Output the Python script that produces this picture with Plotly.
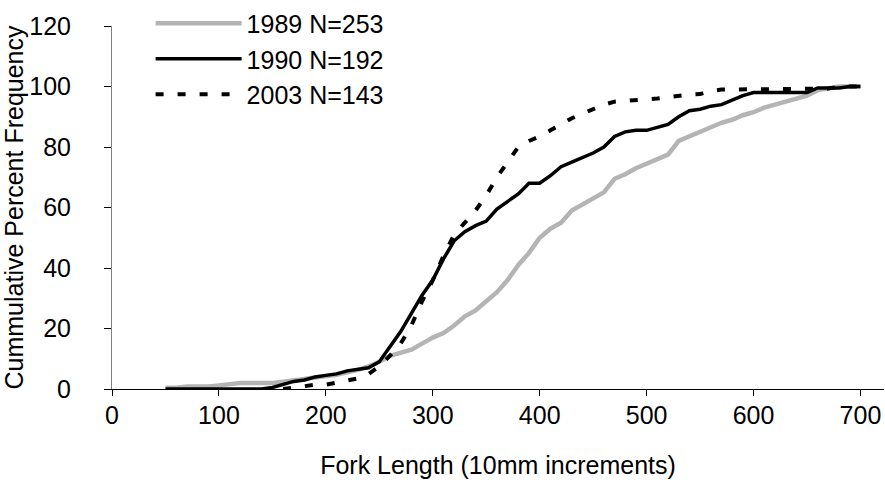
import plotly.graph_objects as go

fork_length = list(range(50, 701, 10))

pct_1989 = [0.4, 0.4, 0.8, 0.8, 0.8, 1.2, 1.6, 2.0, 2.0, 2.0, 2.0, 2.4, 2.8, 3.2, 3.6, 4.0,
            4.7, 5.5, 6.3, 7.5, 9.0, 11.0, 12.0, 13.0, 15.0, 17.0, 18.5, 21.0, 24.0, 26.0,
            29.0, 32.0, 36.0, 41.0, 45.0, 50.0, 53.0, 55.0, 59.0, 61.0, 63.0, 65.0, 69.5,
            71.0, 73.0, 74.5, 76.0, 77.5, 82.0, 83.5, 85.0, 86.5, 88.0, 89.0, 90.5, 91.5,
            93.0, 94.0, 95.0, 96.0, 97.0, 98.8, 99.5, 100, 100, 100]

pct_1990 = [0, 0, 0, 0, 0, 0, 0, 0, 0, 0, 0.5, 1.5, 2.5, 3.0, 4.0, 4.5, 5.0, 6.0, 6.5, 7.0,
            9.0, 14.0, 19.0, 25.0, 31.0, 36.0, 43.0, 49.0, 52.0, 54.0, 55.5, 59.5, 62.0,
            64.5, 68.0, 68.0, 70.5, 73.5, 75.0, 76.5, 78.0, 80.0, 83.5, 85.0, 85.5, 85.5,
            86.5, 87.5, 90.0, 92.0, 92.5, 93.5, 94.0, 95.5, 97.0, 98.0, 98.0, 98.0, 98.0,
            98.0, 98.0, 99.5, 99.5, 99.5, 100, 100]

pct_2003 = [None] * 11 + [0, 0.5, 0.7, 1.4, 1.4, 2.1, 2.8, 3.5, 5.0, 7.5, 11.0, 15.0, 21.0,
            29.0, 36.0, 44.0, 51.0, 55.0, 59.0, 64.0, 70.0, 75.0, 80.0, 82.0, 83.5, 85.5,
            87.5, 89.5, 91.0, 92.5, 94.0, 95.0, 95.2, 95.5, 95.5, 96.0, 96.5, 97.0, 97.3,
            97.5, 98.5, 99.0, 99.0, 99.3, 99.3, 99.3, 99.3, 99.3, 99.3, 99.3, 99.3, 99.3,
            100, 100, 100]

series_names = ["1989 N=253", "1990 N=192", "2003 N=143"]

FONT = "Liberation Sans, Arial, sans-serif"
FS = 25

fig = go.Figure()
fig.add_trace(go.Scatter(x=fork_length, y=pct_1989, mode="lines", name=series_names[0],
                         legendgroup="a",
                         line=dict(color="#b4b4b4", width=4.5)))
fig.add_trace(go.Scatter(x=fork_length, y=pct_1990, mode="lines", name=series_names[1],
                         legendgroup="b",
                         line=dict(color="#000000", width=3.5)))
fig.add_trace(go.Scatter(x=fork_length, y=pct_2003, mode="lines", name=series_names[2],
                         legendgroup="c",
                         line=dict(color="#000000", width=4, dash="8px,14px")))

fig.update_layout(
    width=885, height=487,
    margin=dict(l=112, r=1, t=22, b=98),
    paper_bgcolor="white", plot_bgcolor="white",
    font=dict(family=FONT, size=FS, color="#000000"),
    showlegend=True,
    legend=dict(x=0.05, y=1.07, xanchor="left", yanchor="top",
                bgcolor="rgba(0,0,0,0)", font=dict(size=FS),
                itemwidth=86, tracegroupgap=0, traceorder="grouped"),
    xaxis=dict(range=[0, 722], tickmode="array", tickvals=list(range(0, 701, 100)),
               showgrid=False, zeroline=False, showline=True, linecolor="#000000",
               linewidth=1, ticks="outside", ticklen=6, tickcolor="#000000",
               ticklabelstandoff=-2,
               title=dict(text="Fork Length (10mm increments)", font=dict(size=FS), standoff=28),
               tickfont=dict(size=FS)),
    yaxis=dict(range=[0, 120], tickmode="array", tickvals=list(range(0, 121, 20)),
               showgrid=False, zeroline=False, showline=True, linecolor="#808080",
               linewidth=1, ticks="outside", ticklen=7, tickcolor="#000000",
               ticklabelstandoff=28,
               title=dict(text="Cummulative Percent Frequency", font=dict(size=FS), standoff=0),
               tickfont=dict(size=FS)),
)

fig.write_html("out.html")
